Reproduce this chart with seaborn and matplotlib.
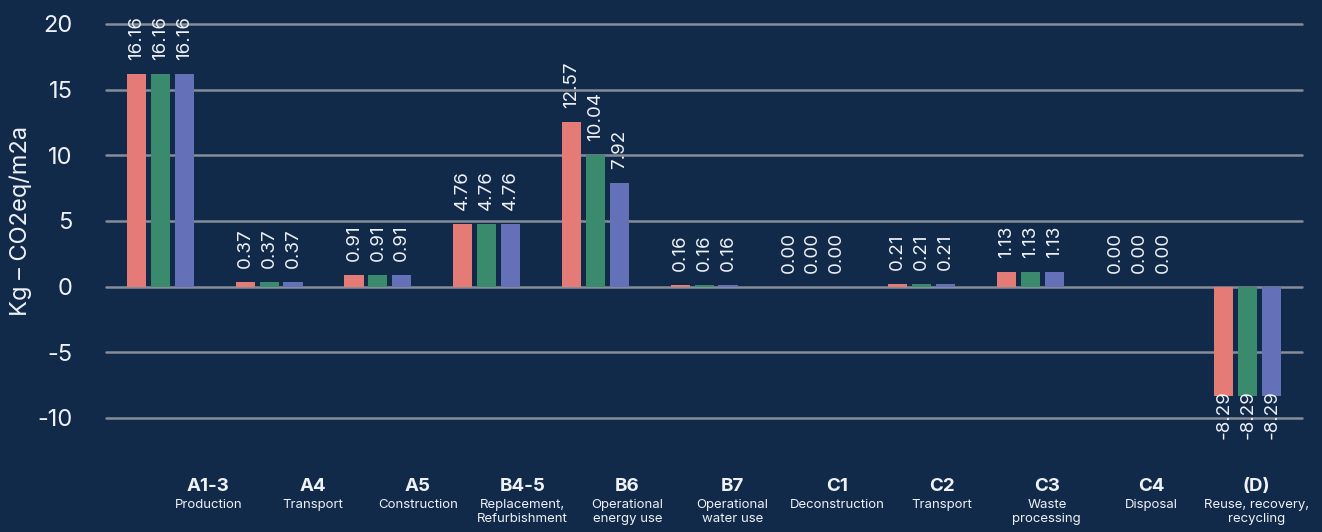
import matplotlib
matplotlib.use("Agg")
import matplotlib.pyplot as plt
import seaborn as sns
import pandas as pd

# Life-cycle stages (EN 15978 modules)
stage_codes = ["A1-3", "A4", "A5", "B4-5", "B6", "B7", "C1", "C2", "C3", "C4", "(D)"]
stage_names = ["Production", "Transport", "Construction", "Replacement,\nRefurbishment",
               "Operational\nenergy use", "Operational\nwater use", "Deconstruction",
               "Transport", "Waste\nprocessing", "Disposal", "Reuse, recovery,\nrecycling"]

# Emissions per scenario, kg CO2eq/m2a
scenario_a = [16.16, 0.37, 0.91, 4.76, 12.57, 0.16, 0.00, 0.21, 1.13, 0.00, -8.29]
scenario_b = [16.16, 0.37, 0.91, 4.76, 10.04, 0.16, 0.00, 0.21, 1.13, 0.00, -8.29]
scenario_c = [16.16, 0.37, 0.91, 4.76, 7.92, 0.16, 0.00, 0.21, 1.13, 0.00, -8.29]
scenarios = ["Scenario A", "Scenario B", "Scenario C"]
colors = ["#E57B77", "#3A8A6D", "#6470B8"]

y_ticks = [-10, -5, 0, 5, 10, 15, 20]
y_label = "Kg – CO2eq/m2a"

BG = "#122A4A"
FG = "#EEF1F5"
GRID = "#858D99"

rows = []
for name, vals in zip(scenarios, [scenario_a, scenario_b, scenario_c]):
    for code, v in zip(stage_codes, vals):
        rows.append({"stage": code, "scenario": name, "value": v})
df = pd.DataFrame(rows)

sns.set_theme(style="dark")
plt.rcParams["font.family"] = ["Inter", "DejaVu Sans"]
plt.rcParams["axes.unicode_minus"] = False

fig = plt.figure(figsize=(13.22, 5.32), dpi=100, facecolor=BG)
ax = fig.add_axes([0.0802, 0.2143, 0.985 - 0.0802, 0.9549 - 0.2143])
ax.set_facecolor(BG)

sns.barplot(data=df, x="stage", y="value", hue="scenario", order=stage_codes,
            hue_order=scenarios, palette=colors, width=0.66, gap=0.2,
            legend=False, ax=ax, saturation=1, linewidth=0, errorbar=None)

ax.set_xlim(-0.5, len(stage_codes) - 0.5)
ax.set_ylim(-10, 20)
ax.set_yticks(y_ticks)
ax.set_yticklabels([str(t) for t in y_ticks], color=FG, fontsize=17)
ax.tick_params(axis="y", length=0, pad=24)
ax.set_xticks([])
ax.set_xlabel("")
ax.set_ylabel(y_label, color=FG, fontsize=17)
ax.yaxis.set_label_coords(-0.062, 0.5)
for s in ax.spines.values():
    s.set_visible(False)
ax.grid(axis="y", color=GRID, linewidth=1.8)
ax.grid(axis="x", visible=False)
ax.set_axisbelow(True)
for gl in ax.yaxis.get_gridlines():
    gl.set_clip_on(False)

# Value labels above (or inside the end of) each bar
for container, vals in zip(ax.containers, [scenario_a, scenario_b, scenario_c]):
    for bar, v in zip(container, vals):
        xc = bar.get_x() + bar.get_width() / 2
        if v >= 0:
            ax.annotate(f"{v:.2f}", xy=(xc, v), xytext=(0, 14), textcoords="offset pixels",
                        rotation=90, ha="center", va="bottom", color=FG, fontsize=13.5,
                        annotation_clip=False)
        else:
            ax.annotate(f"{v:.2f}", xy=(xc, v), xytext=(0, 5), textcoords="offset pixels",
                        rotation=90, ha="center", va="top", color=FG, fontsize=13.5,
                        annotation_clip=False)

# Stage captions below the plot
trans = ax.get_xaxis_transform()
for i, (code, name) in enumerate(zip(stage_codes, stage_names)):
    xpos = 0.44 + i * 0.964
    ax.text(xpos, -0.175, code, transform=trans, ha="center", va="center",
            color=FG, fontsize=13.5, fontweight="bold", clip_on=False)
    ax.text(xpos, -0.205, name, transform=trans, ha="center", va="top",
            color=FG, fontsize=9.5, linespacing=1.2, clip_on=False)

fig.savefig("out.png", dpi=100, facecolor=BG)
